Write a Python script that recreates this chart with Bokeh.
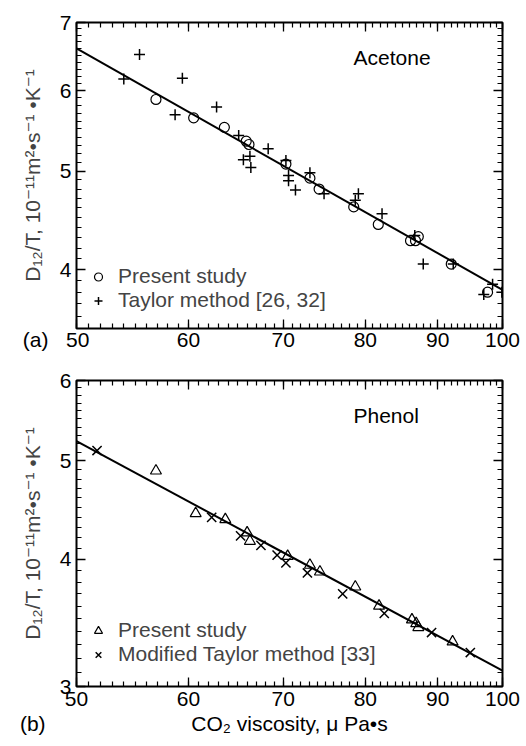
from bokeh.plotting import figure
from bokeh.models import (Range1d, FixedTicker, LogAxis, Legend,
                          BasicTickFormatter, CustomJSTickFormatter, Label)
from bokeh.layouts import column
from bokeh.embed import file_html
from bokeh.resources import INLINE

FONT = "Liberation Sans, DejaVu Sans"
NB = "\u00a0"

# ---------------- data ----------------
x_ticks = [50, 60, 70, 80, 90, 100]
x_minor = list(range(50, 101))

ya_ticks = [4, 5, 6, 7]
ya_minor = [3.5, 3.6, 3.7, 3.8, 3.9, 4.0, 4.1, 4.2, 4.3, 4.4, 4.5, 4.6, 4.7, 4.8,
            4.9, 5.0, 5.1, 5.2, 5.3, 5.4, 5.5, 5.6, 5.7, 5.8, 5.9, 6.0, 6.1, 6.2,
            6.3, 6.4, 6.5, 6.6, 6.7, 6.8, 6.9, 7.0]
yb_ticks = [3, 4, 5, 6]
yb_minor = [3.0, 3.1, 3.2, 3.3, 3.4, 3.5, 3.6, 3.7, 3.8, 3.9, 4.0, 4.1, 4.2, 4.3,
            4.4, 4.5, 4.6, 4.7, 4.8, 4.9, 5.0, 5.1, 5.2, 5.3, 5.4, 5.5, 5.6, 5.7,
            5.8, 5.9, 6.0]

# (a) Acetone
ace_present_x = [56.9, 60.5, 63.6, 65.9, 66.2, 70.3, 73.1, 74.2, 78.5, 81.7,
                 86.1, 86.8, 87.2, 92.0, 97.6]
ace_present_y = [5.88, 5.64, 5.52, 5.35, 5.31, 5.08, 4.92, 4.80, 4.61, 4.43,
                 4.27, 4.27, 4.31, 4.05, 3.80]
ace_taylor_x = [54.0, 55.4, 59.4, 58.7, 62.8, 65.1, 65.6, 66.3, 66.4, 68.3,
                70.3, 70.6, 70.6, 71.4, 73.1, 74.8, 78.7, 79.1, 82.2, 86.7,
                87.9, 92.3, 97.0, 98.4, 99.9]
ace_taylor_y = [6.16, 6.51, 6.17, 5.68, 5.78, 5.42, 5.13, 5.17, 5.04, 5.26,
                5.12, 4.95, 4.89, 4.79, 4.98, 4.75, 4.68, 4.75, 4.54, 4.32,
                4.05, 4.05, 3.78, 3.87, 3.80]
ace_fit_x = [50, 100]
ace_fit_y = [6.60, 3.82]

# (b) Phenol
phe_present_x = [56.9, 60.7, 63.7, 66.0, 66.3, 70.5, 73.1, 74.3, 78.7, 81.8,
                 86.3, 86.9, 87.2, 92.2]
phe_present_y = [4.89, 4.44, 4.38, 4.25, 4.17, 4.03, 3.95, 3.89, 3.76, 3.60,
                 3.49, 3.46, 3.43, 3.32]
phe_mod_x = [51.7, 62.3, 65.3, 67.5, 69.3, 70.3, 72.8, 77.1, 82.5, 89.1, 94.9]
phe_mod_y = [5.12, 4.40, 4.22, 4.13, 4.04, 3.97, 3.88, 3.70, 3.54, 3.39, 3.24]
phe_fit_x = [50, 100]
phe_fit_y = [5.23, 3.11]

Y_LABEL = "D\u2081\u2082/T, 10\u207b\u00b9\u00b9m\u00b2\u2022s\u207b\u00b9 \u2022K\u207b\u00b9"
X_LABEL = "CO\u2082 viscosity, \u03bc Pa\u2022s"
TAG_A = "(a)"
TAG_B = "(b)"
# where the bottom title line is anchored: left edge value and the (log) centre
title_line_at = [50, 70.71]


def style_axis(ax, ticker, show_labels=True):
    ax.ticker = ticker
    ax.axis_line_color = None
    ax.major_tick_in = 9
    ax.major_tick_out = 0
    ax.minor_tick_in = 5
    ax.minor_tick_out = 0
    ax.major_tick_line_color = "black"
    ax.minor_tick_line_color = "black"
    ax.major_tick_line_width = 1.3
    ax.minor_tick_line_width = 1.2
    ax.major_label_text_font = FONT
    ax.major_label_text_color = "black"
    if show_labels:
        ax.formatter = BasicTickFormatter()
        ax.major_label_text_font_size = "21px"
    else:
        ax.formatter = CustomJSTickFormatter(code="return ''")
        ax.major_label_text_font_size = "0px"
        ax.major_label_standoff = 0


def make_panel(height, b_top, b_bottom, y_lo, y_hi, y_major, y_minor, x_standoff):
    p = figure(width=526, height=height, x_axis_type="log", y_axis_type="log",
               x_range=Range1d(50, 100), y_range=Range1d(y_lo, y_hi),
               output_backend="svg", toolbar_location=None,
               min_border_left=76, min_border_right=24,
               min_border_top=b_top, min_border_bottom=b_bottom)
    p.grid.visible = False
    p.outline_line_color = "black"
    p.outline_line_width = 2
    p.outline_line_alpha = 1
    xt = FixedTicker(ticks=x_ticks, minor_ticks=x_minor)
    yt = FixedTicker(ticks=y_major, minor_ticks=y_minor)
    xa = p.xaxis[0]
    ya = p.yaxis[0]
    style_axis(xa, xt)
    style_axis(ya, yt)
    xa.major_label_standoff = x_standoff
    ya.major_label_standoff = 5
    top = LogAxis()
    right = LogAxis()
    style_axis(top, xt, False)
    style_axis(right, yt, False)
    p.add_layout(top, "above")
    p.add_layout(right, "right")
    ya.axis_label = Y_LABEL
    ya.axis_label_text_font = FONT
    ya.axis_label_text_font_size = "21px"
    ya.axis_label_text_font_style = "normal"
    ya.axis_label_standoff = 13
    return p, xa


def add_label(p, x, y, text):
    p.add_layout(Label(x=x, y=y, x_units="screen", y_units="screen", text=text,
                       text_font=FONT, text_font_size="21px",
                       text_align="left", text_baseline="middle",
                       text_color="black"))


def add_legend(p, items, x, y, spacing):
    leg = Legend(items=items, location=(x, y), label_text_font=FONT,
                 label_text_font_size="21px", glyph_width=20, glyph_height=21,
                 label_height=21, label_standoff=10, padding=0, spacing=spacing,
                 margin=0, border_line_color=None, background_fill_alpha=0)
    p.add_layout(leg)


# ---------------- panel (a) ----------------
p1, xa1 = make_panel(366, 22, 38, 3.5, 7, ya_ticks, ya_minor, -1)
# panel tag "(a)" sits on the tick-label line, left of the "50" label
xa1.major_label_overrides = {50: TAG_A + NB * 3 + "50" + NB * 7}
p1.line(ace_fit_x, ace_fit_y, line_color="black", line_width=2)
r_a1 = p1.scatter(ace_present_x, ace_present_y, marker="circle", size=10,
                  fill_color=None, line_color="black", line_width=1.2)
r_a2 = p1.scatter(ace_taylor_x, ace_taylor_y, marker="cross", size=11,
                  line_color="black", line_width=1.5)
add_legend(p1, [("Present study", [r_a1]), ("Taylor method [26, 32]", [r_a2])],
           12, 16, -5)
add_label(p1, 277, 271, "Acetone")

# ---------------- panel (b) ----------------
p2, xa2 = make_panel(380, 14, 60, 3, 6, yb_ticks, yb_minor, 5)
p2.line(phe_fit_x, phe_fit_y, line_color="black", line_width=2)
r_b1 = p2.scatter(phe_present_x, phe_present_y, marker="triangle", size=11,
                  fill_color=None, line_color="black", line_width=1.2)
r_b2 = p2.scatter(phe_mod_x, phe_mod_y, marker="x", size=13,
                  line_color="black", line_width=1.5)
add_legend(p2, [("Present study", [r_b1]), ("Modified Taylor method [33]", [r_b2])],
           12, 20, -7)
add_label(p2, 277, 271, "Phenol")

# x-axis title line: "(b)" at the far left and the title centred on the frame
title_axis = LogAxis(ticker=FixedTicker(ticks=title_line_at, minor_ticks=[]))
title_axis.axis_line_color = None
title_axis.major_tick_in = 0
title_axis.major_tick_out = 0
title_axis.minor_tick_in = 0
title_axis.minor_tick_out = 0
title_axis.major_label_text_font = FONT
title_axis.major_label_text_font_size = "21px"
title_axis.major_label_text_color = "black"
title_axis.major_label_standoff = 3
title_axis.formatter = BasicTickFormatter()
title_axis.major_label_overrides = {50: TAG_B + NB * 15, 70.71: X_LABEL}
p2.add_layout(title_axis, "below")

layout = column(p1, p2, spacing=0)
open("out.html", "w").write(file_html(layout, INLINE))
